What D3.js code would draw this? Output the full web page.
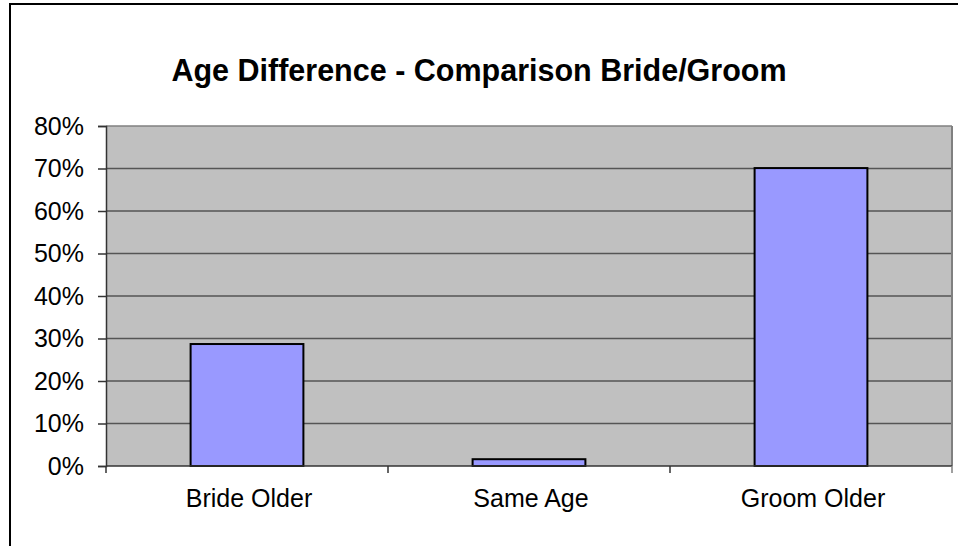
<!DOCTYPE html>
<html>
<head>
<meta charset="utf-8">
<script src="https://cdn.jsdelivr.net/npm/d3@7"></script>
<style>
  body { margin: 0; background: #fff; }
  svg { display: block; font-family: Arial, "Liberation Sans", sans-serif; }
</style>
</head>
<body>
<div id="chart"></div>
<script>
// data
const categories = ['Bride Older', 'Same Age', 'Groom Older'];
const shares = [28.7, 1.6, 70.1];
const yTicks = [0, 10, 20, 30, 40, 50, 60, 70, 80];
const title = 'Age Difference - Comparison Bride/Groom';

document.addEventListener('DOMContentLoaded', function(){
  drawChart();
});

function drawChart() {
  const width = 958, height = 546;
  const plot = {left: 106, top: 126, right: 952, bottom: 466};

  const svg = d3.select('#chart').append('svg')
    .attr('width', width)
    .attr('height', height);

  // outer frame, runs off the right and bottom edge
  svg.append('rect')
    .attr('x', 10).attr('y', 4)
    .attr('width', 980).attr('height', 580)
    .style('fill', '#fff')
    .style('stroke', '#000')
    .style('stroke-width', 2);

  svg.append('text')
    .attr('x', 479).attr('y', 81)
    .attr('text-anchor', 'middle')
    .style('font-size', '30.5px')
    .style('font-weight', 'bold')
    .text(title);

  const x = d3.scaleBand()
    .domain(categories)
    .range([plot.left, plot.right])
    .paddingInner(0.6)
    .paddingOuter(0.3);

  const y = d3.scaleLinear()
    .domain([0, 80])
    .range([plot.bottom, plot.top]);

  // plot background
  svg.append('rect')
    .attr('x', plot.left).attr('y', plot.top)
    .attr('width', plot.right - plot.left)
    .attr('height', plot.bottom - plot.top)
    .style('fill', '#c0c0c0');

  // gridlines
  svg.append('g').selectAll('line')
    .data(yTicks.filter(d => d > 0))
    .enter().append('line')
    .attr('x1', plot.left).attr('x2', plot.right)
    .attr('y1', d => y(d)).attr('y2', d => y(d))
    .style('stroke', d => d === 80 ? '#808080' : '#555')
    .style('stroke-width', 1.5);

  // right edge of plot area
  svg.append('line')
    .attr('x1', plot.right).attr('x2', plot.right)
    .attr('y1', plot.top).attr('y2', plot.bottom)
    .style('stroke', '#808080')
    .style('stroke-width', 2);

  // bars
  svg.append('g').selectAll('rect')
    .data(shares)
    .enter().append('rect')
    .attr('x', (d, i) => x(categories[i]))
    .attr('width', x.bandwidth())
    .attr('y', d => y(d))
    .attr('height', d => y(0) - y(d))
    .style('fill', '#9999ff')
    .style('stroke', '#000')
    .style('stroke-width', 2);

  // y axis
  const yAxis = svg.append('g')
    .attr('transform', 'translate(' + plot.left + ',0)')
    .call(d3.axisLeft(y).tickValues(yTicks).tickSize(8).tickPadding(14)
      .tickFormat(d => d + '%'));
  yAxis.select('.domain').style('stroke', '#333').style('stroke-width', 1.5);
  yAxis.selectAll('.tick line').style('stroke', '#333').style('stroke-width', 1.5);
  yAxis.selectAll('.tick text')
    .style('font-size', '25px')
    .style('fill', '#000')
    .attr('dy', '0.32em');

  // x axis: ticks sit between categories
  const step = (plot.right - plot.left) / categories.length;
  const xAxis = svg.append('g')
    .attr('transform', 'translate(0,' + plot.bottom + ')');
  xAxis.append('line')
    .attr('x1', plot.left).attr('x2', plot.right)
    .style('stroke', '#333').style('stroke-width', 1.5);
  xAxis.selectAll('.sep')
    .data(d3.range(categories.length + 1))
    .enter().append('line')
    .attr('class', 'sep')
    .attr('x1', i => plot.left + i * step).attr('x2', i => plot.left + i * step)
    .attr('y1', 0).attr('y2', 7)
    .style('stroke', i => i === categories.length ? '#808080' : '#333')
    .style('stroke-width', 1.5);
  xAxis.selectAll('.lbl')
    .data(categories)
    .enter().append('text')
    .attr('class', 'lbl')
    .attr('x', d => x(d) + x.bandwidth() / 2 + 2)
    .attr('y', 41)
    .attr('text-anchor', 'middle')
    .style('font-size', '25px')
    .text(d => d);
}
</script>
</body>
</html>
